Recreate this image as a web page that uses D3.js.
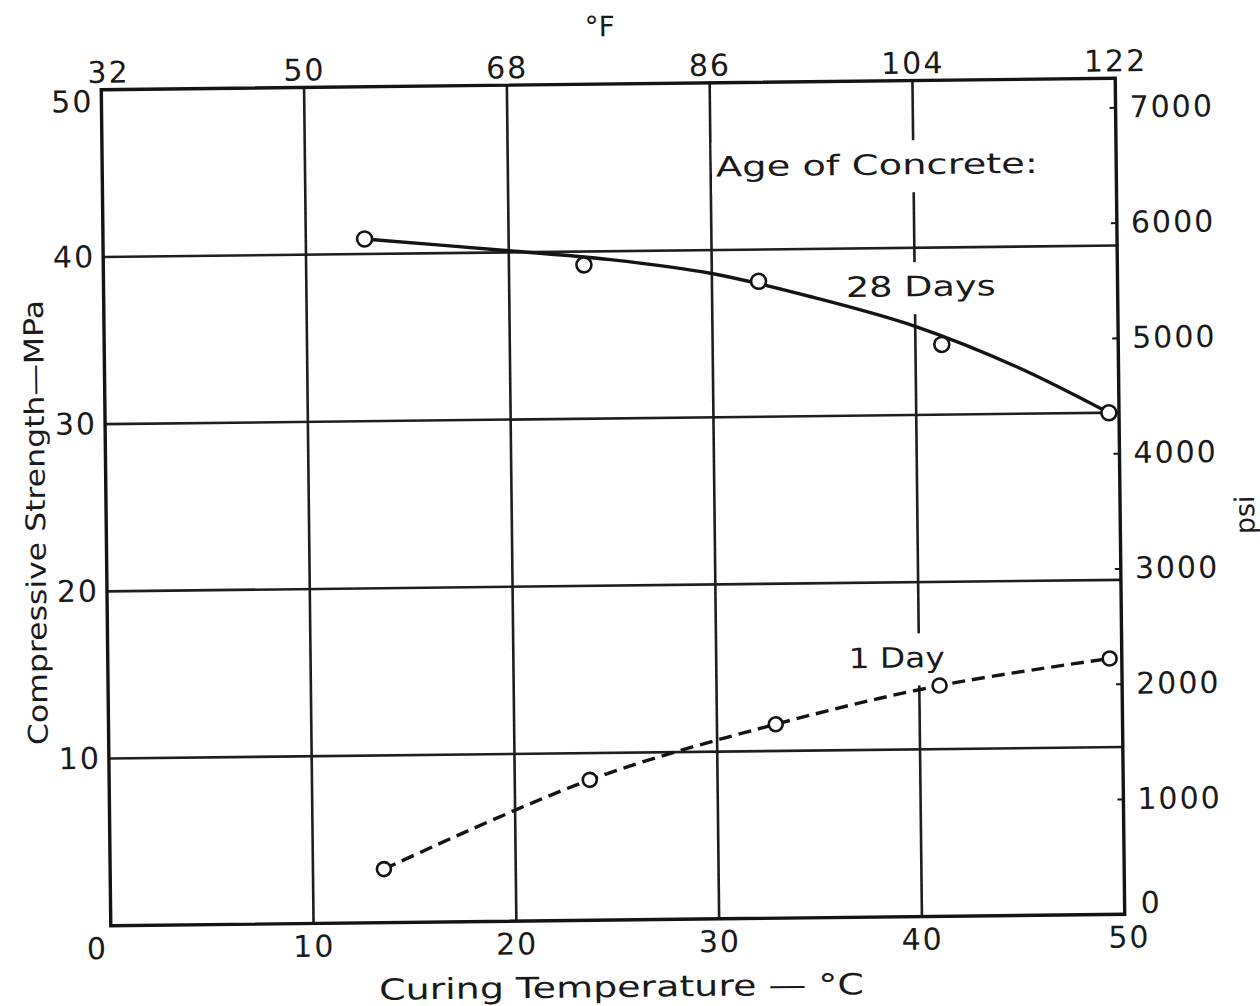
<!DOCTYPE html>
<html>
<head>
<meta charset="utf-8">
<script src="https://cdn.jsdelivr.net/npm/d3@7"></script>
<style>
  html, body { margin: 0; padding: 0; background: #fff; }
  svg { display: block; }
  text { font-family: "DejaVu Sans", sans-serif; fill: #1a1a1a; }
</style>
</head>
<body>
<svg id="chart" width="1260" height="1006"></svg>
<script>
// ---------------- data ----------------
const celsiusTicks = [0, 10, 20, 30, 40, 50];
const fahrenheitTicks = [32, 50, 68, 86, 104, 122];
const mpaTicks = [10, 20, 30, 40, 50];
const psiTicks = [0, 1000, 2000, 3000, 4000, 5000, 6000, 7000];
const gridCelsius = [10, 20, 30, 40];
const gridMpa = [10, 20, 30, 40];

// 28-day measured points
const temp28 = [12.9, 23.7, 32.3, 41.3, 49.5];
const strength28 = [40.9, 39.2, 38.1, 34.2, 30.0];
// 28-day fitted (solid) curve as drawn
const fitTemp28 = [12.9, 20, 25, 30, 35, 40, 45, 49.5];
const fitStrength28 = [40.9, 40.1, 39.5, 38.6, 37.1, 35.3, 32.8, 30.0];

// 1-day measured points (dashed curve)
const temp1 = [13.5, 23.7, 32.9, 41.0, 49.4];
const strength1 = [3.2, 8.4, 11.6, 13.8, 15.3];

const labels = [
  { text: "Age of Concrete:", t: 38.2, s: 44.4, len: 322 },
  { text: "28 Days", t: 40.3, s: 37.1, len: 150 },
  { text: "1 Day", t: 38.9, s: 14.9, len: 96 }
];

// ---------------- layout ----------------
const svg = d3.select("#chart");
svg.append("rect").attr("width", 1260).attr("height", 1006).attr("fill", "#fff");
const L = 106, R = 1120, T = 84, B = 920;
const g = svg.append("g").attr("transform", "rotate(-0.65 613 502)");

const MPA_TO_PSI = 145.038;
const x = d3.scaleLinear().domain([0, 50]).range([L, R]);
const xF = d3.scaleLinear().domain([32, 122]).range([L, R]);
const y = d3.scaleLinear().domain([0, 50]).range([B, T]);
const yPsi = d3.scaleLinear().domain([0, 50 * MPA_TO_PSI]).range([B, T]);

const ink = "#141414";

// grid
g.append("g").selectAll("line").data(gridCelsius).join("line")
  .attr("x1", d => x(d)).attr("x2", d => x(d))
  .attr("y1", T).attr("y2", B)
  .attr("stroke", "#1e1e1e").attr("stroke-width", 2.6);
g.append("g").selectAll("line").data(gridMpa).join("line")
  .attr("x1", L).attr("x2", R)
  .attr("y1", d => y(d)).attr("y2", d => y(d))
  .attr("stroke", "#1e1e1e").attr("stroke-width", 2.6);

// label backgrounds (gridline breaks)
const labG = g.append("g");
labels.forEach(l => {
  labG.append("rect")
    .attr("x", x(l.t) - l.len / 2 - 4)
    .attr("y", y(l.s) - 34)
    .attr("width", l.len + 8)
    .attr("height", 52)
    .attr("fill", "#fff");
});

// frame
g.append("rect").attr("x", L).attr("y", T).attr("width", R - L).attr("height", B - T)
  .attr("fill", "none").attr("stroke", ink).attr("stroke-width", 3.4);

// axes
const fontSize = 30;
function styleAxis(sel) {
  sel.select(".domain").remove();
  sel.selectAll("text").attr("font-size", fontSize)
    .attr("font-family", "DejaVu Sans, sans-serif")
    .attr("letter-spacing", 2).attr("fill", ink);
}

const axB = g.append("g").attr("transform", `translate(0,${B})`)
  .call(d3.axisBottom(x).tickValues(celsiusTicks).tickSize(0).tickPadding(12).tickFormat(d3.format("d")));
styleAxis(axB);
axB.selectAll(".tick").filter(d => d === 0).select("text").attr("dx", -14);
axB.selectAll(".tick").filter(d => d === 50).select("text").attr("dx", 4);

const axT = g.append("g").attr("transform", `translate(0,${T})`)
  .call(d3.axisTop(xF).tickValues(fahrenheitTicks).tickSize(0).tickPadding(7).tickFormat(d3.format("d")));
styleAxis(axT);
axT.selectAll(".tick").filter(d => d === 32).select("text").attr("dx", 7);

const axL = g.append("g").attr("transform", `translate(${L},0)`)
  .call(d3.axisLeft(y).tickValues(mpaTicks).tickSize(0).tickPadding(8).tickFormat(d3.format("d")));
styleAxis(axL);
axL.selectAll(".tick").filter(d => d === 50).select("text").attr("dy", "0.72em");

const axR = g.append("g").attr("transform", `translate(${R},0)`)
  .call(d3.axisRight(yPsi).tickValues(psiTicks).tickSize(-6).tickPadding(14).tickFormat(d3.format("d")));
styleAxis(axR);
axR.selectAll(".tick line").attr("stroke", ink).attr("stroke-width", 2);
axR.selectAll(".tick").filter(d => d === 0).select("text").attr("dy", "-0.05em").attr("dx", 2);

// curves
const pts28 = temp28.map((t, i) => [t, strength28[i]]);
const fit28 = fitTemp28.map((t, i) => [t, fitStrength28[i]]);
const pts1 = temp1.map((t, i) => [t, strength1[i]]);

const line = d3.line().x(d => x(d[0])).y(d => y(d[1])).curve(d3.curveCatmullRom.alpha(0.5));

g.append("path").datum(fit28).attr("d", line)
  .attr("fill", "none").attr("stroke", ink).attr("stroke-width", 3.4);
g.append("path").datum(pts1).attr("d", line)
  .attr("fill", "none").attr("stroke", ink).attr("stroke-width", 3.4)
  .attr("stroke-dasharray", "13,7");

g.append("g").selectAll("circle").data(pts28).join("circle")
  .attr("cx", d => x(d[0])).attr("cy", d => y(d[1])).attr("r", 7.5)
  .attr("fill", "#fff").attr("stroke", ink).attr("stroke-width", 2.6);
g.append("g").selectAll("circle").data(pts1).join("circle")
  .attr("cx", d => x(d[0])).attr("cy", d => y(d[1])).attr("r", 7)
  .attr("fill", "#fff").attr("stroke", ink).attr("stroke-width", 2.6);

// annotation labels
labels.forEach(l => {
  labG.append("text")
    .attr("x", x(l.t)).attr("y", y(l.s))
    .attr("text-anchor", "middle")
    .attr("font-size", 28)
    .attr("textLength", l.len).attr("lengthAdjust", "spacingAndGlyphs")
    .text(l.text);
});

// axis titles
g.append("text").attr("x", 605).attr("y", 36).attr("text-anchor", "middle")
  .attr("font-size", 28).text("°F");

g.append("text").attr("x", 616).attr("y", 997).attr("text-anchor", "middle")
  .attr("font-size", 29).attr("textLength", 485).attr("lengthAdjust", "spacingAndGlyphs")
  .text("Curing Temperature — °C");

g.append("text").attr("transform", "translate(45,516) rotate(-90)")
  .attr("text-anchor", "middle").attr("font-size", 27)
  .attr("textLength", 445).attr("lengthAdjust", "spacingAndGlyphs")
  .text("Compressive Strength—MPa");

g.append("text").attr("transform", "translate(1254,522) rotate(-90)")
  .attr("text-anchor", "middle").attr("font-size", 27)
  .text("psi");
</script>
</body>
</html>
